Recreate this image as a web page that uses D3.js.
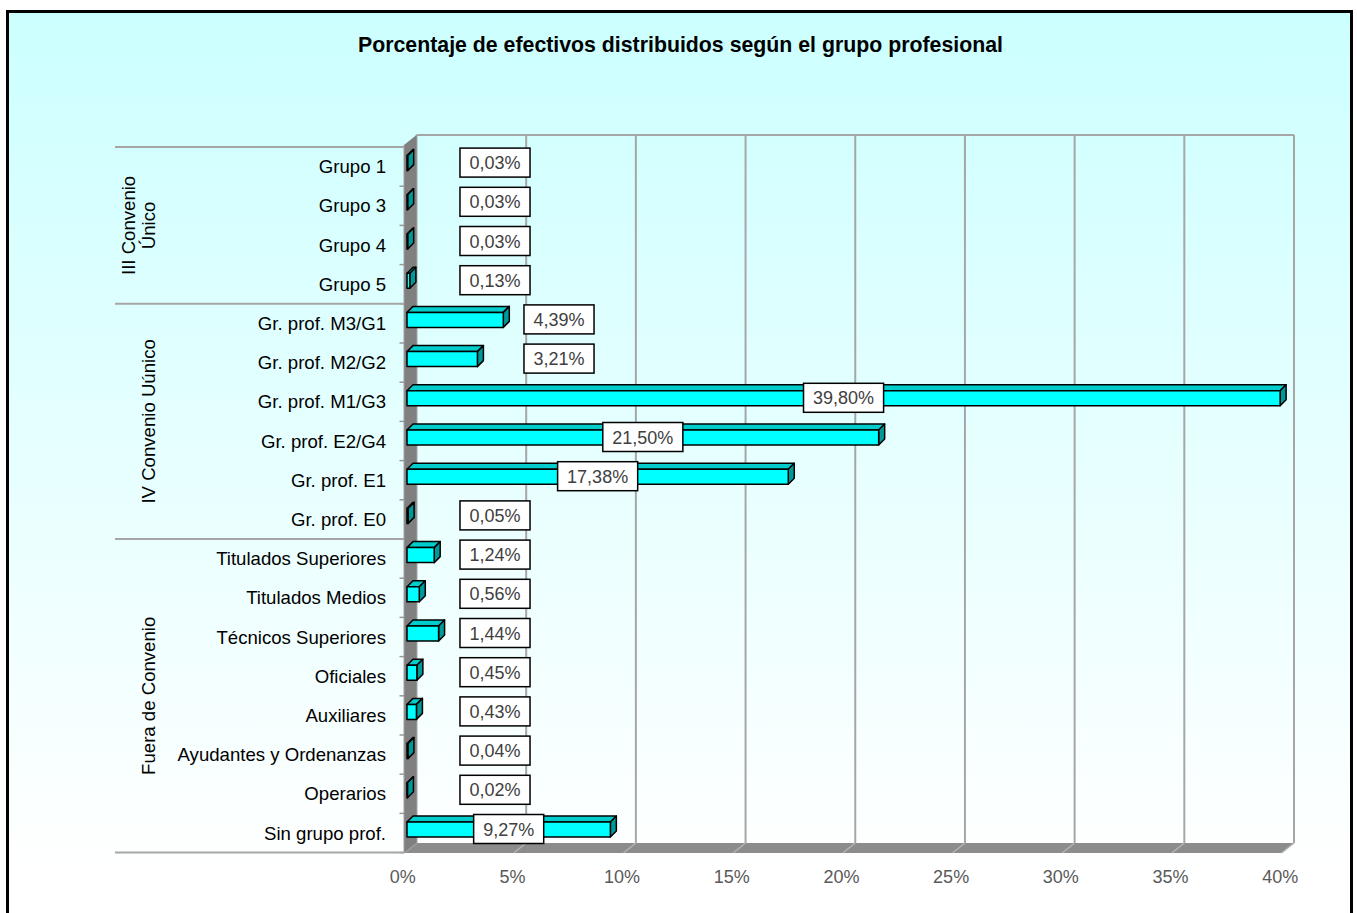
<!DOCTYPE html>
<html><head><meta charset="utf-8">
<script src="https://cdn.jsdelivr.net/npm/d3@7"></script>
<style>html,body{margin:0;padding:0;background:#fff;}svg{display:block;}</style>
</head><body>
<script>
const title = "Porcentaje de efectivos distribuidos según el grupo profesional";
const categories = ["Grupo 1","Grupo 3","Grupo 4","Grupo 5","Gr. prof. M3/G1","Gr. prof. M2/G2","Gr. prof. M1/G3","Gr. prof. E2/G4","Gr. prof. E1","Gr. prof. E0","Titulados Superiores","Titulados Medios","Técnicos Superiores","Oficiales","Auxiliares","Ayudantes y Ordenanzas","Operarios","Sin grupo prof."];
const values = [0.03,0.03,0.03,0.13,4.39,3.21,39.80,21.50,17.38,0.05,1.24,0.56,1.44,0.45,0.43,0.04,0.02,9.27];
const valueLabels = ["0,03%","0,03%","0,03%","0,13%","4,39%","3,21%","39,80%","21,50%","17,38%","0,05%","1,24%","0,56%","1,44%","0,45%","0,43%","0,04%","0,02%","9,27%"];
const groupNames = [["III Convenio","Único"],["IV Convenio Uúnico"],["Fuera de Convenio"]];
const groupSizes = [4,6,8];
const xTicks = [0,5,10,15,20,25,30,35,40];
const xTickLabels = ["0%","5%","10%","15%","20%","25%","30%","35%","40%"];

const W = 1357, H = 913;
const FONT = "Arial, 'Liberation Sans', sans-serif";
const svg = d3.select("body").append("svg").attr("width", W).attr("height", H);

const defs = svg.append("defs");
const grad = defs.append("linearGradient").attr("id","bg")
  .attr("gradientUnits","userSpaceOnUse").attr("x1",0).attr("y1",11).attr("x2",0).attr("y2",870);
grad.append("stop").attr("offset",0).attr("stop-color","#ccffff");
grad.append("stop").attr("offset",1).attr("stop-color","#ffffff");

svg.append("rect").attr("x",7.5).attr("y",11.5).attr("width",1344).attr("height",940)
  .attr("fill","url(#bg)").attr("stroke","#000").attr("stroke-width",3);

svg.append("text").attr("x",680.5).attr("y",52).attr("text-anchor","middle")
  .attr("font-family",FONT).attr("font-size",21.3).attr("font-weight","bold").attr("fill","#000").text(title);

// scales
const x = d3.scaleLinear().domain([0,40]).range([407,1284.5]);   // bar front plane
const backDx = 9.5, floorDx = -3, depthDy = 10;
const y = d3.scaleBand().domain(categories).range([147,852.6]).padding(0);
const yTop = 135, yBottomBack = 843, yBottomFront = 853;

// back wall gridlines
const gGrid = svg.append("g");
gGrid.selectAll("line.grid").data(xTicks).join("line")
  .attr("x1",d=>x(d)+backDx).attr("x2",d=>x(d)+backDx)
  .attr("y1",yTop).attr("y2",yBottomBack)
  .attr("stroke","#a6a6a6").attr("stroke-width",2);
gGrid.append("line").attr("x1",x(0)+backDx).attr("x2",x(40)+backDx).attr("y1",yTop).attr("y2",yTop)
  .attr("stroke","#a6a6a6").attr("stroke-width",2);

// floor
const fx0 = x(0)+floorDx, fx1 = x(40)+floorDx;
svg.append("polygon")
  .attr("points",[[fx0,yBottomFront],[x(0)+backDx,yBottomBack],[x(40)+backDx,yBottomBack],[fx1,yBottomFront]].map(p=>p.join(",")).join(" "))
  .attr("fill","#8c8c8c");
svg.append("g").selectAll("line").data(xTicks).join("line")
  .attr("x1",d=>x(d)+backDx).attr("y1",yBottomBack)
  .attr("x2",d=>x(d)+floorDx).attr("y2",yBottomFront)
  .attr("stroke","#b4b4b4").attr("stroke-width",1.5);

// left wall
svg.append("polygon")
  .attr("points",[[fx0,yTop+depthDy],[x(0)+backDx,yTop],[x(0)+backDx,yBottomBack],[fx0,yBottomFront]].map(p=>p.join(",")).join(" "))
  .attr("fill","#808080");
svg.append("line").attr("x1",fx0).attr("x2",fx0).attr("y1",yTop+depthDy).attr("y2",yBottomFront)
  .attr("stroke","#a0a0a0").attr("stroke-width",1);

// category ticks
const bounds = d3.range(categories.length+1).map(i => y.range()[0] + i*y.step());
svg.append("g").selectAll("line").data(bounds).join("line")
  .attr("x1",fx0-4.5).attr("x2",fx0).attr("y1",d=>d).attr("y2",d=>d)
  .attr("stroke","#999").attr("stroke-width",1.5);

// group separators
let cum = [0]; groupSizes.forEach(s=>cum.push(cum[cum.length-1]+s));
svg.append("g").selectAll("line").data(cum).join("line")
  .attr("x1",115).attr("x2",fx0).attr("y1",d=>bounds[d]).attr("y2",d=>bounds[d])
  .attr("stroke","#a6a6a6").attr("stroke-width",2);

// group labels
groupNames.forEach((lines,gi)=>{
  const cy = (bounds[cum[gi]] + bounds[cum[gi+1]])/2;
  const n = lines.length;
  lines.forEach((t,li)=>{
    const bx = n===1 ? 155 : (li===0 ? 135 : 155);
    svg.append("text").attr("transform",`translate(${bx},${cy}) rotate(-90)`)
      .attr("text-anchor","middle").attr("font-family",FONT).attr("font-size",18.6).attr("fill","#000").text(t);
  });
});

// category labels
svg.append("g").selectAll("text").data(categories).join("text")
  .attr("x",386).attr("y",d=>y(d)+y.bandwidth()/2+6.5).attr("text-anchor","end")
  .attr("font-family",FONT).attr("font-size",18.6).attr("fill","#000").text(d=>d);

// x tick labels
svg.append("g").selectAll("text").data(xTicks).join("text")
  .attr("x",(d)=>x(d)-4.3).attr("y",883).attr("text-anchor","middle")
  .attr("font-family",FONT).attr("font-size",18).attr("fill","#595959").text((d,i)=>xTickLabels[i]);

// bars
const bdx = 6, bdy = 6, fTop = -11, fBot = 4;
const gBars = svg.append("g").attr("stroke","#000").attr("stroke-width",1.5).attr("stroke-linejoin","round");
categories.forEach((c,i)=>{
  const cy = y(c)+y.bandwidth()/2;
  const x0 = x(0), x1 = x(values[i]);
  const t = cy+fTop, b = cy+fBot;
  const pts = a => a.map(p=>p.join(",")).join(" ");
  gBars.append("polygon").attr("points",pts([[x0,t],[x0+bdx,t-bdy],[x1+bdx,t-bdy],[x1,t]])).attr("fill","#00cccc");
  gBars.append("polygon").attr("points",pts([[x1,t],[x1+bdx,t-bdy],[x1+bdx,b-bdy],[x1,b]])).attr("fill","#009999");
  gBars.append("rect").attr("x",x0).attr("y",t).attr("width",Math.max(0.01,x1-x0)).attr("height",b-t).attr("fill","#00ffff");
});

// data labels
const gLab = svg.append("g");
categories.forEach((c,i)=>{
  const v = values[i];
  const cy = y(c)+y.bandwidth()/2 - 4;
  let cx;
  if (v >= 5) cx = (x(0)+x(v))/2;
  else if (v >= 2) cx = x(0) + 152;
  else cx = x(0) + 88;
  const g = gLab.append("g");
  const r = g.append("rect");
  const tx = g.append("text").attr("x",cx).attr("y",cy+6.5).attr("text-anchor","middle")
    .attr("font-family",FONT).attr("font-size",18).attr("fill","#404040").text(valueLabels[i]);
  const w = tx.node().getComputedTextLength() + 19;
  r.attr("x",cx-w/2).attr("y",cy-14.5).attr("width",w).attr("height",29)
   .attr("fill","#fff").attr("stroke","#000").attr("stroke-width",1.5);
});
</script>
</body></html>
